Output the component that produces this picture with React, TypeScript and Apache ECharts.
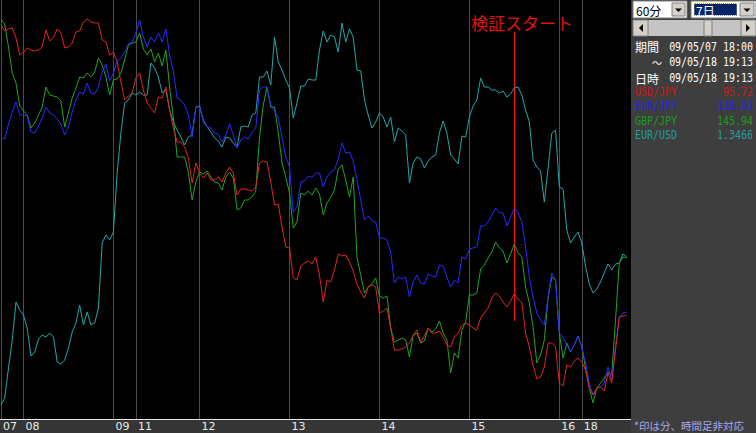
import { useEffect, useRef } from 'react';
import * as echarts from 'echarts';

// day segments of the 60-minute bars (7 days shown)
const days = ['07', '08', '09', '11', '12', '13', '14', '15', '16', '18'];
const dayStartHour = [18, 0, 0, 7, 0, 0, 0, 0, 0, 7];
const dayBars = [6, 24, 6, 17, 24, 24, 24, 24, 6, 13];

const categories: string[] = [];
const dayStarts = new Set<number>();
days.forEach((d, i) => {
    dayStarts.add(categories.length);
    for (let h = 0; h < dayBars[i]; h++) {
        const hh = String(dayStartHour[i] + h).padStart(2, '0');
        categories.push(d + ' ' + hh + ':00');
    }
});

// levels (0 = top of plot, 419 = bottom), one per hour
const usdJpy = [
    25, 31, 29, 28, 38, 55, 52, 48, 50, 51,
    50, 47, 30, 41, 37, 29, 33, 48, 47, 43,
    32, 31, 22, 19, 22, 23, 23, 40, 42, 55,
    52, 62, 82, 100, 96, 93, 78, 73, 90, 103,
    108, 113, 97, 98, 87, 110, 128, 142, 142, 147,
    158, 183, 163, 173, 178, 173, 180, 180, 177, 182,
    173, 167, 173, 195, 189, 189, 190, 191, 187, 163,
    161, 162, 182, 205, 204, 227, 247, 248, 278, 280,
    266, 263, 261, 264, 257, 275, 302, 280, 282, 270,
    254, 256, 255, 262, 271, 284, 292, 298, 287, 285,
    287, 313, 311, 308, 328, 350, 350, 349, 347, 343,
    335, 330, 342, 336, 328, 333, 333, 331, 337, 345,
    347, 337, 333, 325, 323, 325, 328, 330, 318, 313,
    308, 298, 293, 296, 302, 307, 301, 294, 299, 303,
    333, 347, 365, 379, 377, 367, 343, 343, 347, 383,
    386, 365, 367, 361, 358, 362, 370, 388, 395, 388,
    387, 391, 373, 383, 350, 317, 316, 315,
];

const eurJpy = [
    137, 139, 124, 112, 102, 115, 115, 116, 132, 133,
    126, 118, 107, 113, 115, 119, 124, 135, 127, 112,
    100, 92, 94, 83, 93, 94, 87, 72, 64, 81,
    73, 61, 58, 52, 44, 42, 33, 20, 37, 47,
    37, 42, 33, 42, 29, 55, 71, 98, 100, 105,
    115, 137, 107, 107, 122, 127, 128, 133, 134, 142,
    135, 124, 135, 148, 140, 137, 139, 132, 128, 90,
    87, 87, 105, 111, 118, 137, 157, 167, 212, 207,
    182, 181, 176, 177, 173, 173, 187, 177, 172, 170,
    159, 143, 153, 152, 161, 180, 200, 220, 216, 221,
    222, 238, 238, 240, 252, 283, 277, 279, 277, 297,
    282, 275, 283, 284, 274, 276, 277, 265, 266, 277,
    287, 280, 283, 257, 259, 249, 248, 247, 226, 226,
    222, 215, 208, 213, 213, 226, 217, 208, 213, 222,
    247, 277, 297, 313, 320, 325, 297, 273, 280, 333,
    337, 345, 352, 345, 336, 347, 363, 383, 395, 388,
    387, 383, 367, 380, 347, 317, 313, 312,
];

const gbpJpy = [
    19, 24, 47, 73, 83, 106, 111, 115, 128, 123,
    115, 107, 87, 95, 96, 97, 101, 127, 113, 98,
    88, 77, 78, 73, 77, 72, 58, 65, 77, 95,
    80, 79, 73, 60, 45, 43, 42, 33, 49, 55,
    49, 62, 53, 66, 50, 87, 118, 157, 157, 157,
    172, 200, 182, 172, 174, 171, 177, 182, 183, 190,
    177, 172, 178, 210, 208, 200, 200, 197, 191, 137,
    105, 87, 107, 107, 132, 163, 177, 193, 228, 222,
    193, 195, 191, 195, 188, 194, 215, 203, 197, 190,
    169, 165, 180, 197, 177, 257, 275, 293, 287, 284,
    278, 296, 298, 296, 328, 342, 340, 338, 340, 357,
    335, 333, 343, 341, 328, 332, 329, 321, 333, 340,
    373, 353, 358, 330, 322, 295, 295, 293, 269, 265,
    258, 252, 242, 248, 251, 263, 254, 244, 253, 257,
    287, 303, 327, 363, 355, 340, 298, 277, 280, 333,
    358, 343, 352, 345, 336, 347, 368, 388, 403, 388,
    383, 378, 372, 375, 320, 263, 257, 258,
];

const eurUsd = [
    405, 398, 368, 340, 302, 310, 315, 328, 356, 352,
    339, 335, 337, 333, 337, 362, 364, 360, 348, 332,
    323, 305, 325, 312, 325, 323, 308, 243, 235, 240,
    232, 173, 133, 103, 100, 93, 95, 92, 95, 95,
    63, 68, 77, 93, 89, 110, 122, 130, 137, 145,
    137, 135, 107, 106, 120, 127, 132, 138, 141, 147,
    137, 138, 143, 147, 127, 126, 127, 115, 113, 77,
    77, 71, 85, 37, 62, 70, 80, 88, 118, 103,
    86, 86, 79, 80, 80, 50, 31, 42, 35, 37,
    52, 23, 42, 29, 37, 70, 71, 100, 115, 128,
    122, 113, 117, 127, 117, 142, 128, 131, 135, 183,
    163, 157, 159, 168, 161, 157, 155, 133, 121, 133,
    155, 159, 164, 136, 137, 117, 106, 100, 78, 87,
    87, 90, 90, 93, 91, 97, 94, 88, 87, 95,
    110, 122, 160, 167, 171, 202, 168, 133, 130, 187,
    189, 230, 243, 237, 232, 243, 266, 284, 293, 289,
    282, 273, 264, 270, 264, 263, 254, 257,
];

const pairNames = ['USD/JPY', 'EUR/JPY', 'GBP/JPY', 'EUR/USD'];
const lastRates = ['95.72', '128.91', '145.94', '1.3466'];
const lineColors = ['#e02424', '#2a2aff', '#22a422', '#22a8a8'];
const panelColors = ['#c81c1c', '#2424f0', '#1e9a1e', '#1e9c9c'];

const startIndex = 137; // 検証スタート
const jp = '"Noto Sans CJK JP", sans-serif';
const mono = '"DejaVu Sans Mono", monospace';

const App = () => {
    const chartRef = useRef<HTMLDivElement | null>(null);

    useEffect(() => {
        if (!chartRef.current) return;
        const myChart = echarts.init(chartRef.current, null, { renderer: 'svg' });

        const btn = (x: number, y: number, w: number, h: number) => ({
            type: 'rect',
            shape: { x, y, width: w, height: h },
            style: { fill: '#d4d0c8', stroke: '#808080', lineWidth: 1 },
        });

        const panelText = (text: string, x: number, y: number, color: string, align = 'left', font = jp, size = 12, sx = 1) => ({
            type: 'text',
            x,
            y,
            scaleX: sx,
            style: { text, fill: color, font: size + 'px ' + font, align, verticalAlign: 'middle', lineHeight: size },
        });

        const seriesData = [usdJpy, eurJpy, gbpJpy, eurUsd];

        const option = {
            animation: false,
            backgroundColor: '#000',
            grid: { left: 0.5, top: 0, width: 626.25, height: 419 },
            xAxis: {
                type: 'category',
                data: categories,
                boundaryGap: false,
                axisLine: { show: false },
                axisTick: { show: false },
                axisLabel: {
                    interval: (i: number) => dayStarts.has(i),
                    formatter: (v: string) => v.slice(0, 2),
                    color: '#ececec',
                    fontSize: 11,
                    fontFamily: 'DejaVu Sans',
                    align: 'left',
                    padding: [0, 0, 0, 2],
                    margin: 2,
                },
                splitLine: {
                    show: true,
                    interval: (i: number) => dayStarts.has(i),
                    lineStyle: { color: '#4c4c4c', width: 1 },
                },
            },
            yAxis: { type: 'value', inverse: true, min: 0, max: 419, show: false },
            series: seriesData.map((d, i) => ({
                name: pairNames[i],
                type: 'line',
                data: d,
                symbol: 'none',
                lineStyle: { color: lineColors[i], width: 1 },
                itemStyle: { color: lineColors[i] },
                z: 10 - i,
                markLine: i === 0 ? {
                    silent: true,
                    symbol: ['none', 'none'],
                    label: { show: false },
                    lineStyle: { color: '#ff1010', type: 'solid', width: 1 },
                    data: [[{ coord: [categories[startIndex], 32] }, { coord: [categories[startIndex], 321] }]],
                } : undefined,
            })),
            graphic: [
                { type: 'rect', z: -1, shape: { x: 0, y: 420, width: 631, height: 13 }, style: { fill: '#353535' } },
                { type: 'rect', shape: { x: 0, y: 419, width: 631, height: 1 }, style: { fill: '#e6e6e6' } },
                {
                    type: 'text', x: 471, y: 22,
                    style: { text: '検証スタート', fill: '#e01010', font: '17px ' + jp, verticalAlign: 'middle' },
                },
                { type: 'rect', shape: { x: 631, y: 0, width: 125, height: 433 }, style: { fill: '#3e3e3e' } },
                // period combo
                { type: 'rect', shape: { x: 633, y: 1, width: 54, height: 17 }, style: { fill: '#fff', stroke: '#808080' } },
                panelText('60分', 636, 10, '#000'),
                btn(672, 3, 13, 13),
                { type: 'polygon', shape: { points: [[675, 8.5], [682, 8.5], [678.5, 12]] }, style: { fill: '#000' } },
                // range combo
                { type: 'rect', shape: { x: 691, y: 1, width: 65, height: 17 }, style: { fill: '#fff', stroke: '#808080' } },
                { type: 'rect', shape: { x: 694, y: 3.5, width: 43, height: 12 }, style: { fill: '#0a246a', stroke: '#ffff90', lineDash: [1, 1] } },
                panelText('7日', 696, 10, '#fff'),
                btn(740, 3, 14, 13),
                { type: 'polygon', shape: { points: [[743.5, 8.5], [750.5, 8.5], [747, 12]] }, style: { fill: '#000' } },
                // scroll bar
                { type: 'rect', shape: { x: 633, y: 20, width: 123, height: 16 }, style: { fill: '#c4c4c4' } },
                btn(633, 20, 15, 16),
                { type: 'polygon', shape: { points: [[643, 24], [643, 32], [639, 28]] }, style: { fill: '#000' } },
                btn(704, 20, 8, 16),
                btn(741, 20, 15, 16),
                { type: 'polygon', shape: { points: [[746, 24], [746, 32], [750, 28]] }, style: { fill: '#000' } },
                // info
                panelText('期間', 635, 46, '#fff', 'left', jp, 12),
                panelText('09/05/07 18:00', 753, 47, '#fff', 'right', mono, 12, 0.83),
                panelText('〜', 652, 62.2, '#fff', 'left', jp, 10),
                panelText('09/05/18 19:13', 753, 62, '#fff', 'right', mono, 12, 0.83),
                panelText('日時', 635, 78.5, '#fff', 'left', jp, 12),
                panelText('09/05/18 19:13', 753, 78, '#fff', 'right', mono, 12, 0.83),
                ...pairNames.map((n, i) => panelText(n, 635, 92 + i * 14.5, panelColors[i], 'left', mono, 12, 0.83)),
                ...lastRates.map((r, i) => panelText(r, 753, 92 + i * 14.5, panelColors[i], 'right', mono, 12, 0.83)),
                panelText('*印は分、時間足非対応', 634, 425, '#a8a8f0', 'left', jp, 10.5),
            ],
        };

        myChart.setOption(option as any);

        return () => {
            myChart.dispose();
        };
    }, []);

    return <div ref={chartRef} style={{ position: 'fixed', left: 0, top: 0, width: '756px', height: '433px' }} />;
};

export default App;
